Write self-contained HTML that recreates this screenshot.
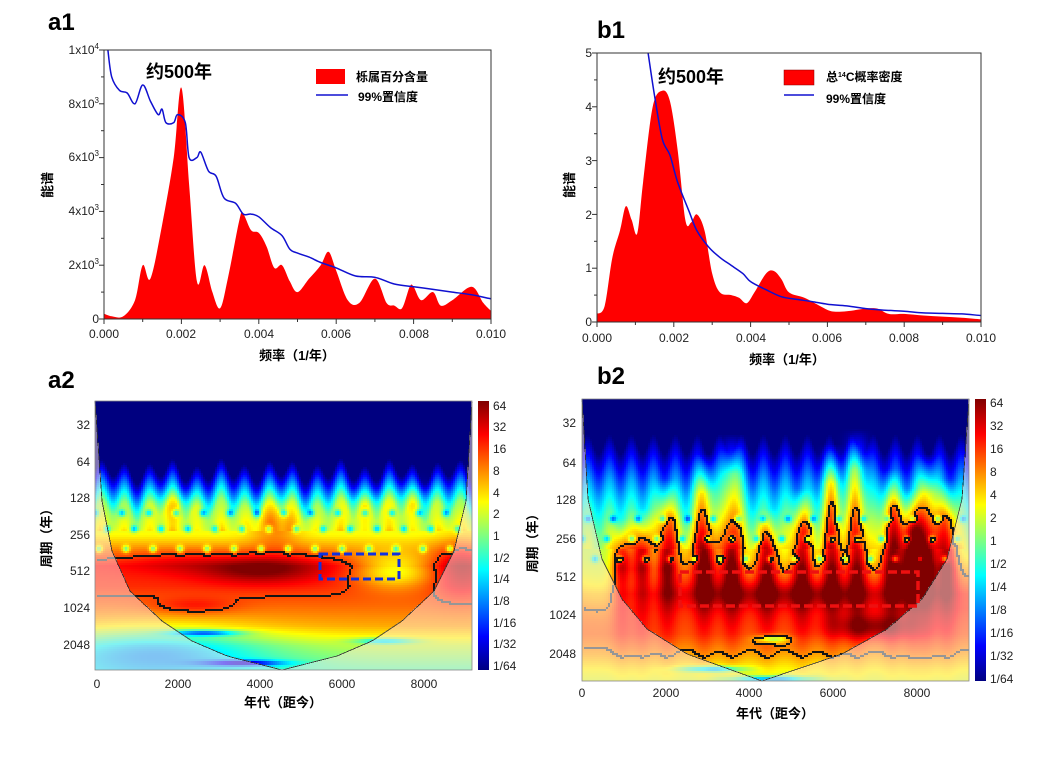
<!DOCTYPE html>
<html><head><meta charset="utf-8">
<style>
body{margin:0;background:#fff;width:1045px;height:762px;overflow:hidden;position:relative;font-family:"Liberation Sans","Noto Sans CJK SC",sans-serif}
svg{position:absolute;left:0;top:0}
</style></head><body>
<svg id="s" width="1045" height="762" xmlns="http://www.w3.org/2000/svg" font-family="Liberation Sans, Noto Sans CJK SC, sans-serif">
<defs>
<linearGradient id="jet" x1="0" y1="0" x2="0" y2="1">
<stop offset="0" stop-color="#800000"/><stop offset="0.125" stop-color="#ff0000"/><stop offset="0.375" stop-color="#ffff00"/><stop offset="0.625" stop-color="#00ffff"/><stop offset="0.875" stop-color="#0000ff"/><stop offset="1" stop-color="#000080"/>
</linearGradient>
</defs>
<g id="wa" transform="translate(95,401)" shape-rendering="crispEdges"></g>
<g id="wb" transform="translate(582,399)" shape-rendering="crispEdges"></g>
<g font-weight="bold" font-size="24" fill="#000">
<text x="48" y="30">a1</text><text x="597" y="38">b1</text>
<text x="48" y="388">a2</text><text x="597" y="384">b2</text>
</g>
<!-- a1 -->
<path id="a1red" fill="#ff0000"/>
<path id="a1blue" fill="none" stroke="#1010d0" stroke-width="1.5"/>
<rect x="104" y="50" width="387" height="269" fill="none" stroke="#333" stroke-width="1"/>
<g id="a1ticks" stroke="#333"></g>
<g font-size="12" fill="#222" text-anchor="end">
<text x="99" y="54">1x10<tspan dy="-5" font-size="8">4</tspan></text>
<text x="99" y="108">8x10<tspan dy="-5" font-size="8">3</tspan></text>
<text x="99" y="161">6x10<tspan dy="-5" font-size="8">3</tspan></text>
<text x="99" y="215">4x10<tspan dy="-5" font-size="8">3</tspan></text>
<text x="99" y="269">2x10<tspan dy="-5" font-size="8">3</tspan></text>
<text x="99" y="323">0</text>
</g>
<g font-size="12" fill="#222" text-anchor="middle">
<text x="104" y="338">0.000</text><text x="181" y="338">0.002</text><text x="259" y="338">0.004</text><text x="336" y="338">0.006</text><text x="414" y="338">0.008</text><text x="491" y="338">0.010</text>
</g>
<text x="297" y="360" font-size="13" font-weight="bold" text-anchor="middle">频率（1/年）</text>
<text transform="translate(52,185) rotate(-90)" font-size="13" font-weight="bold" text-anchor="middle">能谱</text>
<text x="146" y="78" font-size="18" font-weight="bold">约500年</text>
<rect x="316" y="69" width="29" height="15" fill="#ff0000"/>
<text x="356" y="81" font-size="12" font-weight="bold">栎属百分含量</text>
<line x1="316" y1="95" x2="348" y2="95" stroke="#1010d0" stroke-width="1.5"/>
<text x="358" y="101" font-size="12" font-weight="bold">99%置信度</text>
<!-- b1 -->
<path id="b1red" fill="#ff0000"/>
<path id="b1blue" fill="none" stroke="#1010d0" stroke-width="1.5"/>
<rect x="597" y="53" width="384" height="269" fill="none" stroke="#333" stroke-width="1"/>
<g id="b1ticks" stroke="#333"></g>
<g font-size="12" fill="#222" text-anchor="end">
<text x="592" y="57">5</text><text x="592" y="111">4</text><text x="592" y="165">3</text><text x="592" y="219">2</text><text x="592" y="272">1</text><text x="592" y="326">0</text>
</g>
<g font-size="12" fill="#222" text-anchor="middle">
<text x="597" y="342">0.000</text><text x="674" y="342">0.002</text><text x="751" y="342">0.004</text><text x="827" y="342">0.006</text><text x="904" y="342">0.008</text><text x="981" y="342">0.010</text>
</g>
<text x="787" y="364" font-size="13" font-weight="bold" text-anchor="middle">频率（1/年）</text>
<text transform="translate(574,185) rotate(-90)" font-size="13" font-weight="bold" text-anchor="middle">能谱</text>
<text x="658" y="83" font-size="18" font-weight="bold">约500年</text>
<rect x="784" y="70" width="30" height="15" fill="#ff0000" stroke="#800" stroke-width="0.5"/>
<text x="826" y="81" font-size="12" font-weight="bold">总<tspan font-size="7" dy="-4">14</tspan><tspan dy="4">C概率密度</tspan></text>
<line x1="784" y1="95" x2="814" y2="95" stroke="#1010d0" stroke-width="1.5"/>
<text x="826" y="103" font-size="12" font-weight="bold">99%置信度</text>
<!-- a2 -->
<rect x="95" y="401" width="377" height="269" fill="none" stroke="#888" stroke-width="0.8"/>
<rect x="320" y="554" width="79" height="25" fill="none" stroke="#1030e0" stroke-width="3" stroke-dasharray="8,4"/>
<rect x="478" y="401" width="11" height="269" fill="url(#jet)"/>
<g font-size="12" fill="#222">
<text x="493" y="410">64</text><text x="493" y="431">32</text><text x="493" y="453">16</text><text x="493" y="475">8</text><text x="493" y="497">4</text><text x="493" y="518">2</text><text x="493" y="540">1</text><text x="493" y="562">1/2</text><text x="493" y="583">1/4</text><text x="493" y="605">1/8</text><text x="493" y="627">1/16</text><text x="493" y="648">1/32</text><text x="493" y="670">1/64</text>
</g>
<g font-size="12" fill="#222" text-anchor="end">
<text x="90" y="429">32</text><text x="90" y="466">64</text><text x="90" y="502">128</text><text x="90" y="539">256</text><text x="90" y="575">512</text><text x="90" y="612">1024</text><text x="90" y="649">2048</text>
</g>
<g font-size="12" fill="#222" text-anchor="middle">
<text x="97" y="688">0</text><text x="178" y="688">2000</text><text x="260" y="688">4000</text><text x="342" y="688">6000</text><text x="424" y="688">8000</text>
</g>
<text x="283" y="707" font-size="13" font-weight="bold" text-anchor="middle">年代（距今）</text>
<text transform="translate(51,535) rotate(-90)" font-size="13" font-weight="bold" text-anchor="middle">周期（年）</text>
<!-- b2 -->
<rect x="582" y="399" width="387" height="282" fill="none" stroke="#888" stroke-width="0.8"/>
<rect x="680" y="572" width="238" height="34" fill="none" stroke="#ee1010" stroke-width="3.5" stroke-dasharray="9,4"/>
<rect x="975" y="399" width="11" height="282" fill="url(#jet)"/>
<g font-size="12" fill="#222">
<text x="990" y="407">64</text><text x="990" y="430">32</text><text x="990" y="453">16</text><text x="990" y="476">8</text><text x="990" y="499">4</text><text x="990" y="522">2</text><text x="990" y="545">1</text><text x="990" y="568">1/2</text><text x="990" y="591">1/4</text><text x="990" y="614">1/8</text><text x="990" y="637">1/16</text><text x="990" y="660">1/32</text><text x="990" y="683">1/64</text>
</g>
<g font-size="12" fill="#222" text-anchor="end">
<text x="576" y="427">32</text><text x="576" y="467">64</text><text x="576" y="504">128</text><text x="576" y="543">256</text><text x="576" y="581">512</text><text x="576" y="619">1024</text><text x="576" y="658">2048</text>
</g>
<g font-size="12" fill="#222" text-anchor="middle">
<text x="582" y="697">0</text><text x="666" y="697">2000</text><text x="749" y="697">4000</text><text x="833" y="697">6000</text><text x="917" y="697">8000</text>
</g>
<text x="775" y="718" font-size="13" font-weight="bold" text-anchor="middle">年代（距今）</text>
<text transform="translate(537,540) rotate(-90)" font-size="13" font-weight="bold" text-anchor="middle">周期（年）</text>
</svg>
<script>
var NS="http://www.w3.org/2000/svg";
function pts(d,x0,sx,y0,sy){return d.map(function(p){return [x0+p[0]*sx,y0-p[1]*sy];});}
function f1(v){return v.toFixed(1);}
function smooth(P){var s="M"+f1(P[0][0])+","+f1(P[0][1]);for(var i=0;i<P.length-1;i++){var p0=P[Math.max(0,i-1)],p1=P[i],p2=P[i+1],p3=P[Math.min(P.length-1,i+2)];var c1=[p1[0]+(p2[0]-p0[0])/6,p1[1]+(p2[1]-p0[1])/6],c2=[p2[0]-(p3[0]-p1[0])/6,p2[1]-(p3[1]-p1[1])/6];s+="C"+f1(c1[0])+","+f1(c1[1])+" "+f1(c2[0])+","+f1(c2[1])+" "+f1(p2[0])+","+f1(p2[1]);}return s;}
var a1r=[[0,.2],[.2,.1],[.5,.1],[.8,.7],[1,2],[1.2,1.5],[1.5,3.5],[1.8,6],[2,8.6],[2.2,5],[2.4,1.4],[2.6,2],[2.8,1],[3,.4],[3.2,1.5],[3.5,3.7],[3.6,3.9],[3.8,3.3],[4,3.2],[4.2,2.7],[4.4,1.9],[4.6,2],[4.8,1.4],[5,1],[5.3,1.5],[5.6,2],[5.8,2.5],[6,1.8],[6.3,.7],[6.6,.6],[7,1.5],[7.3,.6],[7.5,.5],[7.7,.4],[7.9,1.2],[8,1.2],[8.2,.7],[8.5,1],[8.7,.5],[9,.7],[9.5,1.2],[9.8,.6],[10,.3]];
var a1b=[[.1,10],[.2,9],[.4,8.5],[.6,8.4],[.8,8],[1,8.7],[1.2,8.1],[1.4,7.6],[1.5,7.8],[1.6,7.3],[1.8,7.3],[1.9,7.6],[2.1,7.3],[2.2,6],[2.4,6],[2.5,6.2],[2.7,5.5],[2.9,5.3],[3.1,4.5],[3.4,4.3],[3.6,3.9],[3.8,3.9],[4,3.8],[4.3,3.4],[4.6,3.1],[4.8,2.6],[5,2.45],[5.3,2.3],[5.6,2.1],[6,1.9],[6.5,1.6],[7,1.55],[7.5,1.3],[8,1.2],[8.5,1.1],[9,1],[9.5,.9],[10,.75]];
var b1r=[[0,.15],[.2,.3],[.4,1.2],[.6,1.7],[.75,2.15],[.9,1.9],[1.05,1.65],[1.2,2.6],[1.45,4],[1.7,4.3],[1.9,4.1],[2.1,3.2],[2.3,1.9],[2.45,1.85],[2.6,2],[2.8,1.7],[3,.9],[3.2,.55],[3.5,.5],[3.7,.45],[3.9,.35],[4.1,.55],[4.4,.9],[4.6,.95],[4.8,.8],[5,.55],[5.4,.45],[5.8,.3],[6.1,.2],[6.5,.2],[7,.25],[7.3,.25],[7.6,.15],[8,.15],[8.5,.12],[9,.1],[9.5,.08],[10,.05]];
var b1b=[[1.33,5],[1.5,4.2],[1.7,3.4],[1.9,3.1],[2.1,2.6],[2.4,2.05],[2.6,1.7],[2.9,1.4],[3.2,1.2],[3.5,1.05],[3.8,.9],[4,.75],[4.4,.6],[4.8,.47],[5.2,.42],[5.6,.38],[6,.33],[6.5,.3],[7,.25],[7.5,.22],[8,.2],[8.5,.17],[9,.16],[9.5,.15],[10,.12]];
var P=pts(a1r,104,38.7,319,26.9);document.getElementById("a1red").setAttribute("d",smooth(P)+"L491,319L104,319Z");
document.getElementById("a1blue").setAttribute("d",smooth(pts(a1b,104,38.7,319,26.9)));
P=pts(b1r,597,38.4,322,53.8);document.getElementById("b1red").setAttribute("d",smooth(P)+"L981,322L597,322Z");
document.getElementById("b1blue").setAttribute("d",smooth(pts(b1b,597,38.4,322,53.8)));
function ticks(id,x0,x1,y0,y1,nx,ny){var G=document.getElementById(id);function L(a,b,c,d){var l=document.createElementNS(NS,"line");l.setAttribute("x1",a);l.setAttribute("y1",b);l.setAttribute("x2",c);l.setAttribute("y2",d);G.appendChild(l);}for(var i=0;i<=nx*2;i++){var x=x0+(x1-x0)*i/(nx*2);L(x,y1,x,y1+(i%2?3:5));}for(var j=0;j<=ny*2;j++){var y=y1-(y1-y0)*j/(ny*2);L(x0,y,x0-(j%2?3:5),y);}}
ticks("a1ticks",104,491,50,319,5,5);ticks("b1ticks",597,981,53,322,5,5);
function interp(pr,v){if(v<=pr[0][0])return pr[0][1];for(var i=0;i<pr.length-1;i++){if(v<=pr[i+1][0]){var t=(v-pr[i][0])/(pr[i+1][0]-pr[i][0]);return pr[i][1]+t*(pr[i+1][1]-pr[i][1]);}}return pr[pr.length-1][1];}
function cl(x){return Math.max(0,Math.min(1,x));}
function jet(t){t=cl(t);return [cl(1.5-Math.abs(4*t-3))*255,cl(1.5-Math.abs(4*t-2))*255,cl(1.5-Math.abs(4*t-1))*255];}
function g(u,v,cu,cv,su,sv,a){var du=(u-cu)/su,dv=(v-cv)/sv;return a*Math.exp(-(du*du)-(dv*dv));}
function render(id,W,H,field,coneL,coneR,cu,th){var G=document.getElementById(id);var S=2;var nx=Math.ceil(W/S),ny=Math.ceil(H/S);var F=[];
for(var j=0;j<ny;j++){F[j]=[];for(var i=0;i<nx;i++)F[j][i]=field(i*S+1,j*S+1);}
var html=[];
for(var j=0;j<ny;j++)for(var i=0;i<nx;i++){var u=i*S+1,v=j*S+1;var val=F[j][i];var col=jet((val+6)/12);var r=col[0],gg=col[1],bb=col[2];
var dd=(u<cu)?(cu-u-interp(coneL,v)):(u-cu-interp(coneR,v));var inC=dd<0;
var cont=false;if(i>0&&j>0){var a=F[j][i]>th,b1=F[j][i-1]>th,c1=F[j-1][i]>th;cont=(a!=b1||a!=c1);}
if(!inC){r=r*0.5+255*0.5;gg=gg*0.5+230*0.5;bb=bb*0.5+230*0.5;}
if(cont){if(inC){r=gg=bb=20;}else{r=gg=bb=150;}}
var w=Math.min(S,W-i*S),h=Math.min(S,H-j*S);
html.push('<rect x="'+(i*S)+'" y="'+(j*S)+'" width="'+w+'" height="'+h+'" fill="rgb('+Math.round(r)+','+Math.round(gg)+','+Math.round(bb)+')"/>');}
var d="";for(var v=0;v<=H;v+=2){d+=(v?"L":"M")+f1(cu-interp(coneL,v))+","+v;}for(var v2=H;v2>=0;v2-=2){d+="L"+f1(cu+interp(coneR,v2))+","+v2;}
html.push('<path d="'+d+'" fill="none" stroke="#333" stroke-width="0.8"/>');
var tmp=document.createElementNS(NS,"svg");tmp.innerHTML=html.join("");
if(tmp.childNodes.length>0){while(tmp.firstChild)G.appendChild(tmp.firstChild);}else{
var p=new DOMParser().parseFromString('<svg xmlns="'+NS+'">'+html.join("")+'</svg>',"image/svg+xml");var ch=p.documentElement.childNodes;for(var k=0;k<ch.length;k++)G.appendChild(document.importNode(ch[k],true));}}
var prA=[[0,-6],[70,-6],[92,-2.5],[110,0.3],[135,1.6],[150,3],[165,4.3],[185,4],[205,3.3],[225,2.5],[245,.8],[269,-.5]];
function fA(u,v){var sh=v<130?9*Math.sin(u*2*Math.PI/24)+4*Math.sin(u*0.11):0;var val=interp(prA,v+sh);
val+=g(u,v,165,168,60,14,2.0)+g(u,v,80,160,50,12,0.6)+g(u,v,365,165,25,30,1.5);
val+=g(u,v,300,170,40,18,-2.8)+g(u,v,60,250,110,25,-3)+g(u,v,110,232,35,3,-4)+g(u,v,150,262,40,3,-4)+g(u,v,290,240,30,3,-3);
val+=g(u,v,100,205,40,8,1)+g(u,v,180,120,25,25,1.8)+g(u,v,80,105,25,15,1.5)+g(u,v,270,105,25,15,1.5)+g(u,v,320,100,20,15,1.5);
var rows=[[112,0],[128,12],[148,4]];for(var q=0;q<rows.length;q++)for(var c=rows[q][1];c<377;c+=27){val+=g(u,v,c,rows[q][0],3.5,3.5,-3);}
return Math.max(-6,Math.min(6,val));}
render("wa",377,269,fA,[[0,187],[100,180],[150,170],[190,152],[220,120],[240,90],[255,55],[269,0]],[[0,190],[100,184],[150,172],[190,152],[220,120],[240,90],[255,55],[269,0]],187,3.7);
var prB=[[0,-6],[45,-6],[90,-2.5],[130,0],[160,1.5],[180,3],[195,3.8],[210,4],[235,3.5],[255,2.5],[270,1.5],[282,1]];
var flames=[[85,80],[122,55],[150,35],[185,110],[250,45],[275,30],[310,70],[345,55],[365,80],[40,120],[60,110],[220,90],[330,90]];
function fB(u,v){var sh=v<150?10*Math.sin(u*2*Math.PI/22):0;var val=interp(prB,v+sh);
for(var q=0;q<flames.length;q++){var f=flames[q];var top=f[1];if(v>top){var du=(u-f[0])/10;val+=4*Math.exp(-du*du)*Math.min(1,(v-top)/40)*Math.exp(-Math.max(0,v-170)/40);}}
val+=g(u,v,200,195,130,12,1.5)+g(u,v,290,228,40,12,2)+g(u,v,120,160,40,30,1)+g(u,v,330,150,25,35,1.5);
val+=g(u,v,20,190,60,30,-2)+g(u,v,130,270,30,3,-4)+g(u,v,190,280,40,3,-4)+g(u,v,190,240,15,4,-3);
var rows=[[140,0],[160,13],[120,6]];for(var r=0;r<rows.length;r++)for(var c=rows[r][1];c<387;c+=25){val+=g(u,v,c,rows[r][0],3.5,3.5,-3);}
return Math.max(-6,Math.min(6,val));}
render("wb",387,282,fB,[[0,180],[100,174],[160,160],[200,140],[230,115],[255,75],[282,0]],[[0,207],[100,200],[160,185],[200,160],[230,125],[255,80],[282,0]],180,2.8);
</script>
</body></html>
